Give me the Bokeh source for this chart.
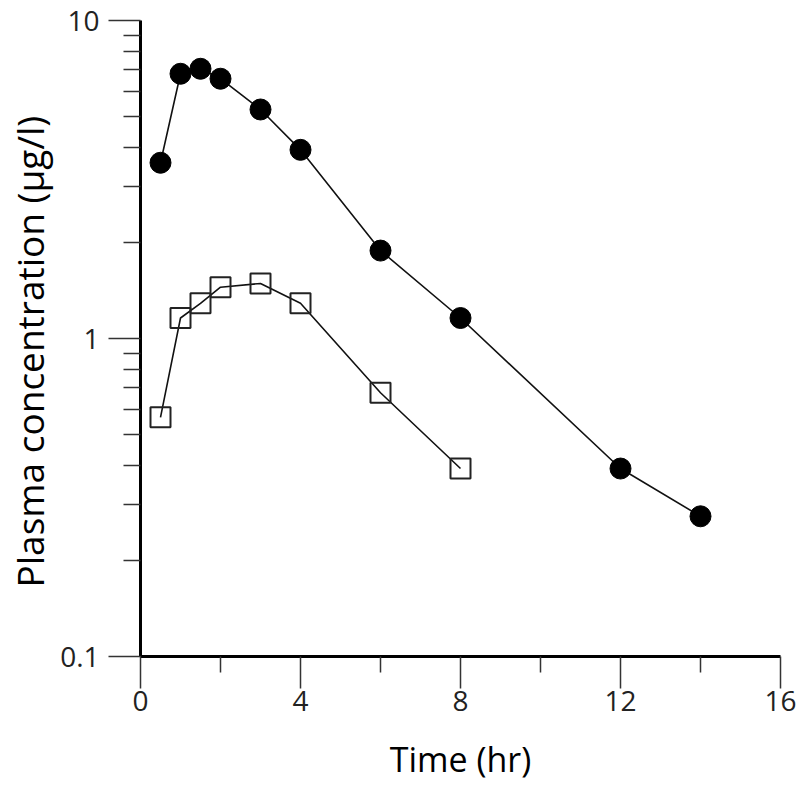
from bokeh.plotting import figure
from bokeh.models import FixedTicker, Range1d, Title
from bokeh.embed import file_html
from bokeh.resources import INLINE

# Data
time_a = [0.5, 1, 1.5, 2, 3, 4, 6, 8, 12, 14]
conc_a = [3.57, 6.8, 7.05, 6.56, 5.25, 3.92, 1.89, 1.16, 0.39, 0.276]

time_b = [0.5, 1, 1.5, 2, 3, 4, 6, 8]
conc_b = [0.565, 1.16, 1.29, 1.45, 1.49, 1.29, 0.675, 0.39]

x_major = [0, 4, 8, 12, 16]
x_minor = [2, 6, 10, 14]
y_major = [0.1, 1, 10]
y_minor = [0.2, 0.3, 0.4, 0.5, 0.6, 0.7, 0.8, 0.9, 2, 3, 4, 5, 6, 7, 8, 9]

x_title = "Time (hr)"
y_title = "Plasma concentration (μg/l)"

FONT = "Open Sans"

p = figure(width=800, height=798, y_axis_type="log",
           x_range=Range1d(0, 16), y_range=Range1d(0.1, 10),
           output_backend="svg", toolbar_location=None,
           min_border_left=140, min_border_right=20,
           min_border_top=20, min_border_bottom=142)

p.outline_line_color = None
p.xgrid.visible = False
p.ygrid.visible = False
p.background_fill_color = "white"

p.line(time_a, conc_a, line_color="#111111", line_width=1.6)
p.scatter(time_a, conc_a, marker="circle", size=21, fill_color="black", line_color="black")

p.line(time_b, conc_b, line_color="#111111", line_width=1.6)
p.scatter(time_b, conc_b, marker="square", size=20, fill_color=None,
          line_color="#222222", line_width=2)

p.xaxis.ticker = FixedTicker(ticks=x_major, minor_ticks=x_minor)
p.yaxis.ticker = FixedTicker(ticks=y_major, minor_ticks=y_minor)
p.xaxis.major_label_overrides = {v: str(v) for v in x_major}
p.yaxis.major_label_overrides = {0.1: "0.1", 1: "1", 10: "10"}

for ax in (p.xaxis[0], p.yaxis[0]):
    ax.axis_line_width = 3
    ax.axis_line_color = "black"
    ax.major_tick_line_color = "#333333"
    ax.minor_tick_line_color = "#333333"
    ax.major_tick_line_width = 1.5
    ax.minor_tick_line_width = 1.5
    ax.major_tick_in = 0
    ax.minor_tick_in = 0
    ax.major_label_text_font = FONT
    ax.major_label_text_font_size = "28px"
    ax.major_label_text_color = "#222222"
    ax.axis_label_text_font = FONT
    ax.axis_label_text_font_style = "normal"
    ax.axis_label_text_color = "black"

p.xaxis.major_tick_out = 32
p.xaxis.minor_tick_out = 16
p.yaxis.major_tick_out = 32
p.yaxis.minor_tick_out = 17
p.xaxis.major_label_standoff = 2
p.yaxis.major_label_standoff = 9

p.xaxis.axis_label = x_title
p.xaxis.axis_label_text_font_size = "34px"
p.xaxis.axis_label_standoff = 22

# y title as a left-side title so it can sit close to the page edge like the reference
ytitle = Title(text=y_title, text_font=FONT, text_font_size="37px",
               text_font_style="normal", text_color="black",
               align="left", vertical_align="top", offset=69, standoff=2)
p.add_layout(ytitle, "left")

open("out.html", "w").write(file_html(p, INLINE))
